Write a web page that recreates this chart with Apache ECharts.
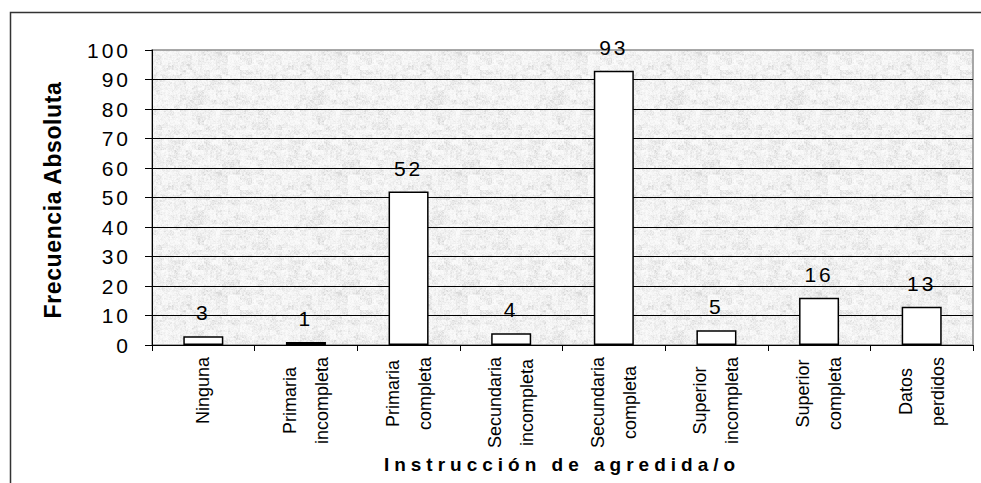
<!DOCTYPE html>
<html>
<head>
<meta charset="utf-8">
<script src="https://cdn.jsdelivr.net/npm/echarts@6/dist/echarts.min.js"></script>
<style>
html, body { margin: 0; padding: 0; background: #fff; }
#chart { width: 981px; height: 483px; }
</style>
</head>
<body>
<div id="chart"></div>
<script>
var categories = ['Ninguna', 'Primaria\nincompleta', 'Primaria\ncompleta', 'Secundaria\nincompleta',
    'Secundaria\ncompleta', 'Superior\nincompleta', 'Superior\ncompleta', 'Datos\nperdidos'];
var frecuencia = [3, 1, 52, 4, 93, 5, 16, 13];
var yTitle = 'Frecuencia Absoluta';
var xTitle = 'Instrucción de agredida/o';

// grey speckled texture for the plot area (decoration only)
function makeTexture() {
    var size = 120;
    var c = document.createElement('canvas');
    c.width = size; c.height = size;
    var ctx = c.getContext('2d');
    var img = ctx.createImageData(size, size);
    function hash(x, y) {
        var h = Math.sin(x * 127.1 + y * 311.7) * 43758.5453;
        return h - Math.floor(h);
    }
    for (var y = 0; y < size; y++) {
        for (var x = 0; x < size; x++) {
            var v = hash(x, y) * 0.35 +
                hash(Math.floor(x / 2), Math.floor(y / 2)) * 0.3 +
                hash(Math.floor(x / 6) + 11, Math.floor(y / 5) + 5) * 0.35;
            var g = Math.round(252 - v * v * 42);
            var i = (y * size + x) * 4;
            img.data[i] = g; img.data[i + 1] = g; img.data[i + 2] = g; img.data[i + 3] = 255;
        }
    }
    ctx.putImageData(img, 0, 0);
    return c.toDataURL();
}

var chart = echarts.init(document.getElementById('chart'), null, { renderer: 'svg' });
var font = 'Liberation Sans';

var option = {
    animation: false,
    textStyle: { fontFamily: font },
    grid: {
        left: 152,
        right: 8,
        top: 50,
        bottom: 138,
        show: true,
        backgroundColor: { image: makeTexture(), repeat: 'repeat' },
        borderColor: '#8c8c8c',
        borderWidth: 1.5
    },
    xAxis: {
        type: 'category',
        data: categories,
        axisLine: { lineStyle: { color: '#000', width: 1 } },
        axisTick: { show: true, length: 6, lineStyle: { color: '#000' } },
        axisLabel: {
            rotate: 90,
            margin: 12,
            color: '#000',
            fontFamily: font,
            formatter: function (value) {
                return value.split('\n').map(function (s) { return '{c|' + s + '}'; }).join('\n');
            },
            rich: {
                c: { align: 'center', fontSize: 18, lineHeight: 32, color: '#000', fontFamily: font }
            }
        }
    },
    yAxis: {
        type: 'value',
        min: 0,
        max: 100,
        interval: 10,
        axisLine: { show: true, lineStyle: { color: '#000', width: 1 } },
        axisTick: { show: true, length: 7, lineStyle: { color: '#000' } },
        axisLabel: { color: '#000', fontSize: 21, margin: 21, fontFamily: font },
        splitLine: { show: true, showMinLine: false, showMaxLine: false, lineStyle: { color: '#000', width: 1 } }
    },
    series: [{
        type: 'bar',
        data: frecuencia,
        barWidth: '39%',
        itemStyle: { color: '#fff', borderColor: '#000', borderWidth: 1.5 },
        label: {
            show: true,
            position: 'top',
            distance: 13,
            color: '#000',
            fontSize: 21,
            fontFamily: font
        }
    }],
    graphic: [
        {
            type: 'polyline',
            shape: { points: [[10.5, 483], [10.5, 12.5], [981, 12.5]] },
            style: { stroke: '#333', lineWidth: 1.5, fill: null }
        },
        {
            type: 'text',
            x: 53,
            y: 200,
            rotation: Math.PI / 2,
            style: {
                text: yTitle,
                fill: '#000',
                font: 'bold 23px ' + font,
                align: 'center',
                verticalAlign: 'middle'
            }
        },
        {
            type: 'text',
            x: 562,
            y: 464,
            style: {
                text: xTitle,
                fill: '#000',
                font: 'bold 19px ' + font,
                align: 'center',
                verticalAlign: 'middle'
            }
        }
    ]
};
chart.setOption(option);

function spaceTexts() {
    var texts = document.querySelectorAll('#chart text');
    for (var i = 0; i < texts.length; i++) {
        var t = texts[i].textContent;
        if (t === xTitle) {
            texts[i].style.letterSpacing = '5px';
        } else if (t === yTitle) {
            texts[i].style.letterSpacing = '0.6px';
        } else if (/^\d+$/.test(t)) {
            texts[i].style.letterSpacing = '3px';
        }
    }
}
spaceTexts();
chart.on('finished', spaceTexts);
</script>
</body>
</html>
